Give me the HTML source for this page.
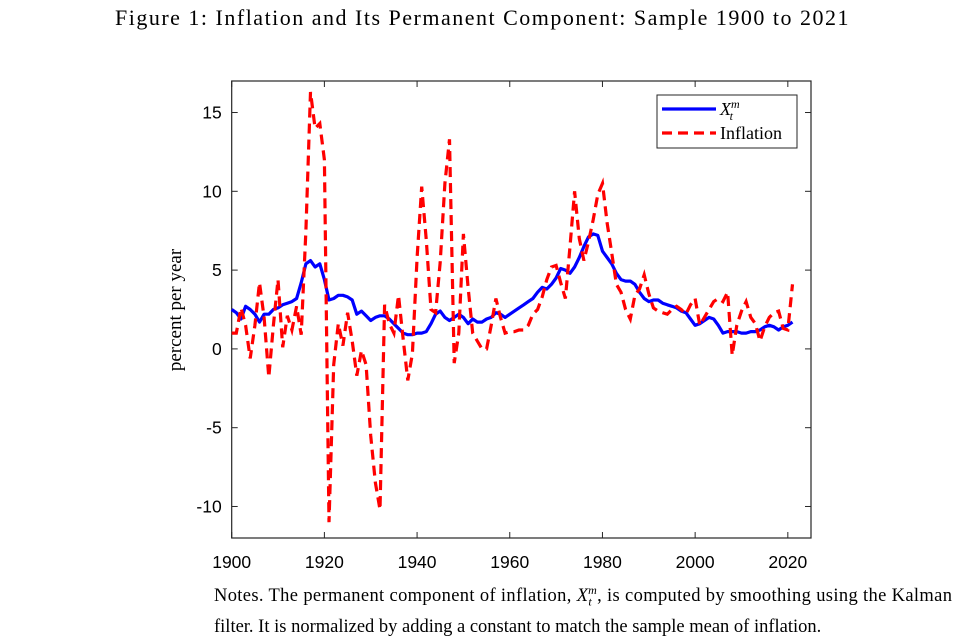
<!DOCTYPE html>
<html><head><meta charset="utf-8"><style>
body{margin:0;background:#fff;width:965px;height:634px;overflow:hidden;position:relative;font-family:"Liberation Serif",serif;}
.title{position:absolute;top:5px;left:0;width:965px;text-align:center;font-size:22px;letter-spacing:1.5px;color:#000;}
.notes{position:absolute;left:214px;top:578px;font-size:18.5px;line-height:25px;color:#000;white-space:nowrap;}
svg{position:absolute;left:0;top:0;}
</style></head><body>
<div class="title">Figure 1: Inflation and Its Permanent Component: Sample 1900 to 2021</div>
<svg id="chart" width="965" height="634"></svg>
<div class="notes"><span style="letter-spacing:0.35px">Notes. The permanent component of inflation, <i>X</i><sub style="font-size:12px"><i>t</i></sub><sup style="font-size:12px;margin-left:-4px"><i>m</i></sup>, is computed by smoothing using the Kalman</span><br>filter. It is normalized by adding a constant to match the sample mean of inflation.</div>
<script>
const years = [];
for (let y = 1900; y <= 2021; y++) years.push(y);
const inflation = [1.0,1.0,2.6,1.5,-0.6,1.5,4.2,2.0,-1.8,1.5,4.4,0.1,2.1,1.2,2.7,0.9,7.5,16.3,14.0,
  14.3,12.0,-11.0,-1.0,1.6,0.2,2.3,0.5,-1.7,-0.1,-1.0,-5.5,-8.5,-10.2,2.8,1.6,1.0,3.4,0.6,-2.0,-0.3,5.8,10.3,6.9,2.5,2.3,5.5,10.5,13.3,-0.9,1.0,7.3,3.9,
  1.0,0.5,0.0,0.0,1.5,3.2,2.0,1.0,1.1,1.1,1.2,1.2,1.5,2.2,2.5,3.3,4.4,5.2,5.3,4.2,3.2,6.5,10.0,7.0,5.6,6.8,8.2,9.8,10.5,8.0,6.1,4.1,3.6,2.5,1.9,3.4,
  3.8,4.7,3.5,2.6,2.4,2.3,2.2,2.5,2.7,2.5,2.2,2.8,3.2,1.5,2.0,2.5,3.0,3.2,3.0,3.6,-0.4,1.5,2.4,3.0,2.0,1.6,0.5,1.4,2.0,2.3,2.4,1.3,1.2,4.1];
const permanent = [2.5,2.3,1.9,2.7,2.5,2.2,1.7,2.2,2.2,2.5,2.6,2.8,2.9,3.0,3.2,4.2,5.4,5.6,5.2,
  5.4,4.4,3.1,3.2,3.4,3.4,3.3,3.1,2.2,2.4,2.1,1.8,2.0,2.1,2.1,1.9,1.6,1.3,1.0,0.9,0.9,1.0,1.0,1.1,1.6,2.2,2.4,2.0,1.8,2.0,2.2,2.0,1.6,
  1.9,1.7,1.7,1.9,2.0,2.3,2.2,2.0,2.2,2.4,2.6,2.8,3.0,3.2,3.6,3.9,3.8,4.1,4.5,5.1,5.0,4.8,5.2,5.8,6.5,7.1,7.3,7.2,6.2,5.8,5.4,4.8,4.4,4.3,4.3,4.1,
  3.6,3.2,3.0,3.1,3.1,2.9,2.8,2.7,2.6,2.4,2.3,1.9,1.5,1.6,1.8,2.0,1.9,1.5,1.0,1.1,1.1,1.1,1.0,1.0,1.1,1.1,1.2,1.4,1.5,1.4,1.2,1.4,1.5,1.7];
const xTicks = [1900,1920,1940,1960,1980,2000,2020];
const yTicks = [-10,-5,0,5,10,15];

const L=231.7,R=811,T=81,B=538, X0=1900,X1=2025,Y0=-12,Y1=17;
const sx=v=>L+(v-X0)/(X1-X0)*(R-L);
const sy=v=>B-(v-Y0)/(Y1-Y0)*(B-T);
const svg=document.getElementById('chart');
const NS='http://www.w3.org/2000/svg';
function mk(tag,attrs,parent){const e=document.createElementNS(NS,tag);for(const k in attrs)e.setAttribute(k,attrs[k]);(parent||svg).appendChild(e);return e;}

const box=mk('rect',{x:L,y:T,width:R-L,height:B-T,fill:'none',stroke:'#262626','stroke-width':1.2});



xTicks.forEach(t=>{
  const x=sx(t);
  mk('line',{x1:x,x2:x,y1:B,y2:B-6,stroke:'#262626'});
  mk('line',{x1:x,x2:x,y1:T,y2:T+6,stroke:'#262626'});
  const tx=mk('text',{x:x,y:B+30,'text-anchor':'middle','font-family':'Liberation Sans, sans-serif','font-size':17.5,fill:'#000'});
  tx.textContent=t;
  
  
});
yTicks.forEach(t=>{
  const y=sy(t);
  mk('line',{x1:L,x2:L+6,y1:y,y2:y,stroke:'#262626'});
  mk('line',{x1:R,x2:R-6,y1:y,y2:y,stroke:'#262626'});
  const tx=mk('text',{x:L-10,y:y+6,'text-anchor':'end','font-family':'Liberation Sans, sans-serif','font-size':17.5,fill:'#000'});
  tx.textContent=t;
  
  
});
const yl=mk('text',{x:0,y:0,transform:'translate(181,310) rotate(-90)','text-anchor':'middle','font-family':'Liberation Serif, serif','font-size':19,fill:'#000'});
yl.textContent='percent per year';



function pts(arr){return arr.map((v,i)=>sx(years[i]).toFixed(1)+','+sy(v).toFixed(1)).join(' ');}
const pb=mk('polyline',{points:pts(permanent),fill:'none',stroke:'#0000ff','stroke-width':3.2,'stroke-linejoin':'round'});


const pr=mk('polyline',{points:pts(inflation),fill:'none',stroke:'#ff0000','stroke-width':3.2,'stroke-dasharray':'10,6'});



const lg=mk('g',{});


mk('rect',{x:657,y:95,width:140,height:53,fill:'#fff',stroke:'#262626','stroke-width':1},lg);
mk('line',{x1:662,x2:716,y1:109,y2:109,stroke:'#0000ff','stroke-width':3.2},lg);
mk('line',{x1:662,x2:716,y1:133,y2:133,stroke:'#ff0000','stroke-width':3.2,'stroke-dasharray':'10,6'},lg);
const t1=mk('text',{x:720,y:115,'font-family':'Liberation Serif, serif','font-size':18,'font-style':'italic',fill:'#000'},lg);
t1.innerHTML='X<tspan font-size="12" dy="-7">m</tspan><tspan font-size="12" dx="-10" dy="12">t</tspan>';


const t2=mk('text',{x:720,y:139,'font-family':'Liberation Serif, serif','font-size':18,fill:'#000'},lg);
t2.textContent='Inflation';


</script>
</body></html>
